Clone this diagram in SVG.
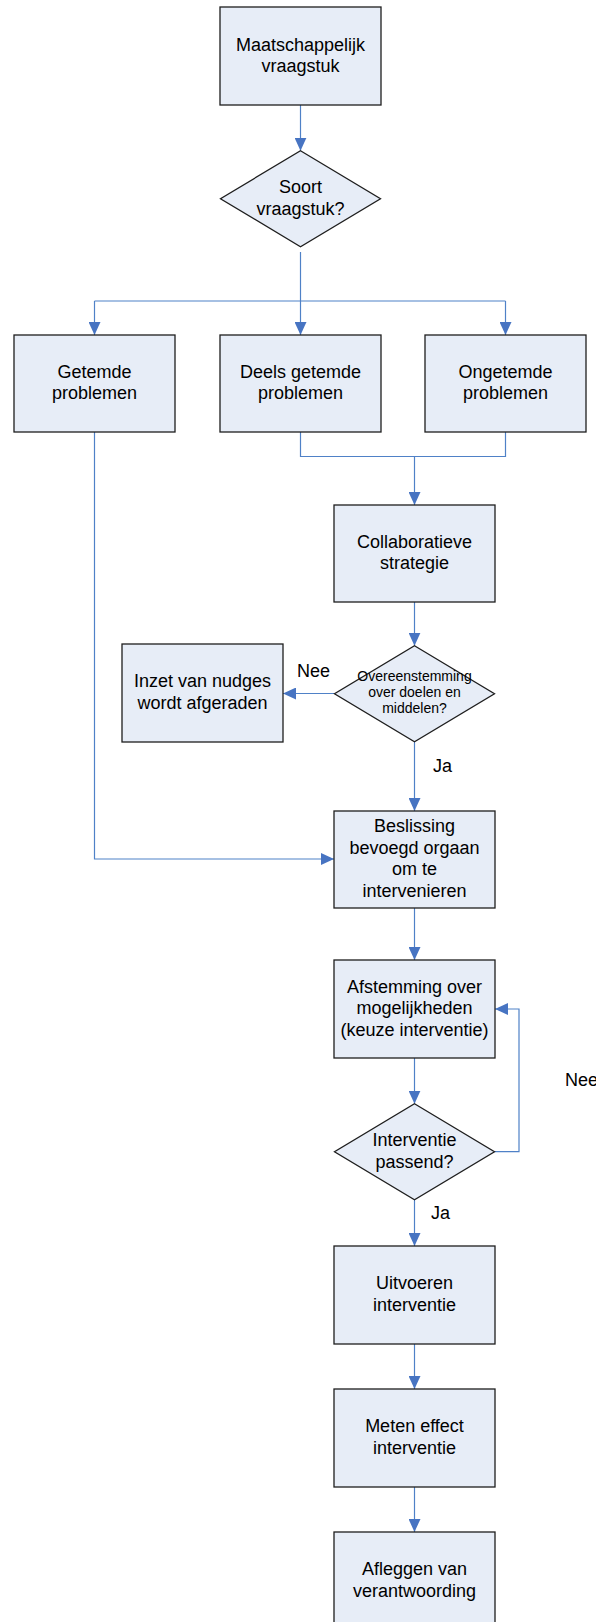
<svg xmlns="http://www.w3.org/2000/svg" width="596" height="1622" viewBox="0 0 596 1622">
<style>
.box{fill:#E7EDF7;stroke:#1e1e1e;stroke-width:1.3}
.t{font-family:"Liberation Sans",Arial,sans-serif;font-size:18px;fill:#000;text-anchor:middle}
.ts{font-family:"Liberation Sans",Arial,sans-serif;font-size:14px;fill:#000;text-anchor:middle}
.lbl{font-family:"Liberation Sans",Arial,sans-serif;font-size:18px;fill:#000}
.c{fill:none;stroke:#4F81C7;stroke-width:1.2}
</style>
<defs>
<marker id="ah" markerUnits="userSpaceOnUse" markerWidth="13" markerHeight="12" refX="13" refY="6" orient="auto">
<path d="M0,0 L13,6 L0,12 z" fill="#4774C2"/>
</marker>
</defs>
<rect width="596" height="1622" fill="#fff"/>
<g id="connectors">
<path class="c" d="M300.5,105 V150.7" marker-end="url(#ah)"/>
<path class="c" d="M300.5,252 V301"/>
<path class="c" d="M94.5,301 H505.5"/>
<path class="c" d="M94.5,301 V335" marker-end="url(#ah)"/>
<path class="c" d="M300.5,301 V335" marker-end="url(#ah)"/>
<path class="c" d="M505.5,301 V335" marker-end="url(#ah)"/>
<path class="c" d="M300.5,432 V456.5 H505.5 V432"/>
<path class="c" d="M414.5,456.5 V505" marker-end="url(#ah)"/>
<path class="c" d="M94.5,432 V859 H334" marker-end="url(#ah)"/>
<path class="c" d="M414.5,602 V645.7" marker-end="url(#ah)"/>
<path class="c" d="M334.5,693.5 H283" marker-end="url(#ah)"/>
<path class="c" d="M414.5,741.7 V811" marker-end="url(#ah)"/>
<path class="c" d="M414.5,908 V960" marker-end="url(#ah)"/>
<path class="c" d="M414.5,1058 V1103.7" marker-end="url(#ah)"/>
<path class="c" d="M494.5,1151.7 H519 V1009 H495" marker-end="url(#ah)"/>
<path class="c" d="M414.5,1199.7 V1246" marker-end="url(#ah)"/>
<path class="c" d="M414.5,1344 V1389" marker-end="url(#ah)"/>
<path class="c" d="M414.5,1487 V1532" marker-end="url(#ah)"/>
<text class="lbl" x="297" y="677">Nee</text>
<text class="lbl" x="433" y="772">Ja</text>
<text class="lbl" x="565" y="1086">Nee</text>
<text class="lbl" x="431" y="1219">Ja</text>
</g>
<g id="n1"><rect class="box" x="220" y="7" width="161" height="98"/>
<text class="t" x="300.5" y="50.7">Maatschappelijk</text><text class="t" x="300.5" y="72.2">vraagstuk</text></g>
<g id="d1"><polygon class="box" points="300.5,150.7 380.5,198.7 300.5,246.7 220.5,198.7"/>
<text class="t" x="300.5" y="193">Soort</text><text class="t" x="300.5" y="214.5">vraagstuk?</text></g>
<g id="n_getemd"><rect class="box" x="14" y="335" width="161" height="97"/>
<text class="t" x="94.5" y="377.7">Getemde</text><text class="t" x="94.5" y="399.2">problemen</text></g>
<g id="n_deels"><rect class="box" x="220" y="335" width="161" height="97"/>
<text class="t" x="300.5" y="377.7">Deels getemde</text><text class="t" x="300.5" y="399.2">problemen</text></g>
<g id="n_ongetemd"><rect class="box" x="425" y="335" width="161" height="97"/>
<text class="t" x="505.5" y="377.7">Ongetemde</text><text class="t" x="505.5" y="399.2">problemen</text></g>
<g id="n_collab"><rect class="box" x="334" y="505" width="161" height="97"/>
<text class="t" x="414.5" y="547.7">Collaboratieve</text><text class="t" x="414.5" y="569.2">strategie</text></g>
<g id="d2"><polygon class="box" points="414.5,645.7 494.5,693.7 414.5,741.7 334.5,693.7"/>
<text class="ts" x="414.5" y="680.7">Overeenstemming</text><text class="ts" x="414.5" y="696.7">over doelen en</text><text class="ts" x="414.5" y="712.7">middelen?</text></g>
<g id="n_inzet"><rect class="box" x="122" y="644" width="161" height="98"/>
<text class="t" x="202.5" y="687.3">Inzet van nudges</text><text class="t" x="202.5" y="708.8">wordt afgeraden</text></g>
<g id="n_besl"><rect class="box" x="334" y="811" width="161" height="97"/>
<text class="t" x="414.5" y="832.2">Beslissing</text><text class="t" x="414.5" y="853.7">bevoegd orgaan</text><text class="t" x="414.5" y="875.2">om te</text><text class="t" x="414.5" y="896.7">intervenieren</text></g>
<g id="n_afst"><rect class="box" x="334" y="960" width="161" height="98"/>
<text class="t" x="414.5" y="992.5">Afstemming over</text><text class="t" x="414.5" y="1014">mogelijkheden</text><text class="t" x="414.5" y="1035.5">(keuze interventie)</text></g>
<g id="d3"><polygon class="box" points="414.5,1103.7 494.5,1151.7 414.5,1199.7 334.5,1151.7"/>
<text class="t" x="414.5" y="1146">Interventie</text><text class="t" x="414.5" y="1167.5">passend?</text></g>
<g id="n_uitv"><rect class="box" x="334" y="1246" width="161" height="98"/>
<text class="t" x="414.5" y="1289.3">Uitvoeren</text><text class="t" x="414.5" y="1310.8">interventie</text></g>
<g id="n_meten"><rect class="box" x="334" y="1389" width="161" height="98"/>
<text class="t" x="414.5" y="1432.3">Meten effect</text><text class="t" x="414.5" y="1453.8">interventie</text></g>
<g id="n_afl"><rect class="box" x="334" y="1532" width="161" height="98"/>
<text class="t" x="414.5" y="1575.3">Afleggen van</text><text class="t" x="414.5" y="1596.8">verantwoording</text></g>
</svg>
